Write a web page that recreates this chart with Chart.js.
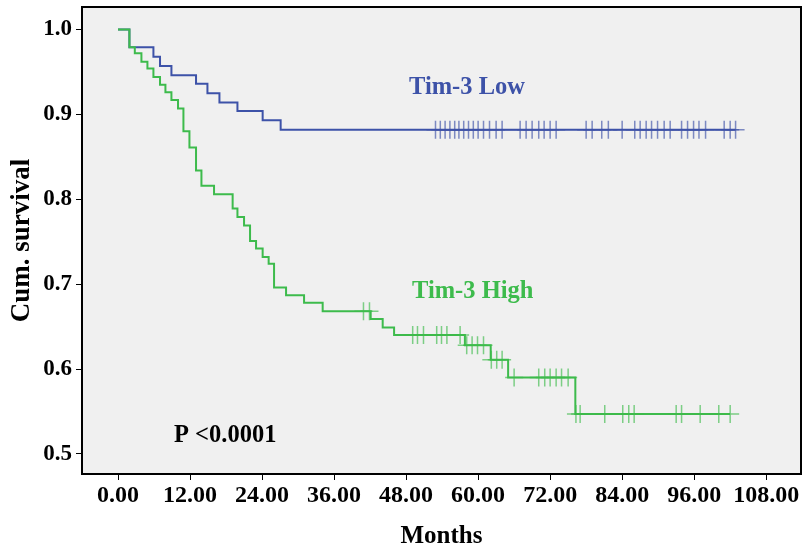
<!DOCTYPE html>
<html><head><meta charset="utf-8">
<script src="https://cdn.jsdelivr.net/npm/chart.js@4.4.0/dist/chart.umd.min.js"></script>
<style>html,body{margin:0;padding:0;background:#fff}#wrap{width:803px;height:552px;position:relative}</style>
</head><body><div id="wrap"><canvas id="c"></canvas></div>
<script>
// ---- data (months, cumulative survival) ----
const lowTimes = [0, 1.9, 5.9, 7.0, 8.9, 13.0, 14.9, 16.9, 19.9, 24.1, 27.1];
const lowSurv  = [1.0, 0.979, 0.968, 0.957, 0.946, 0.936, 0.925, 0.914, 0.904, 0.893, 0.882];
const lowCensor = [52.9, 53.7, 54.5, 55.3, 56.1, 56.8, 57.6, 58.4, 59.2, 60.0, 60.9, 61.9, 63.0, 64.0,
  67.0, 68.0, 69.0, 70.1, 71.0, 72.0, 73.0,
  78.0, 79.0, 80.6, 81.7, 84.0, 86.1, 87.0, 88.0, 88.9, 89.9, 91.0, 92.0, 93.9, 94.9, 95.9, 96.8, 97.9, 101.0, 102.0, 102.9];

const highTimes = [0, 1.9, 2.8, 3.9, 4.9, 5.9, 7.0, 7.9, 8.9, 10.0, 10.9, 11.9, 13.0, 13.9, 16.0, 19.1, 19.9, 21.0, 22.0, 23.0, 24.1, 25.1, 26.0, 28.0, 31.0, 34.1, 42.1, 44.1, 46.0, 57.8, 62.1, 65.0, 76.2];
const highSurv  = [1.0, 0.979, 0.972, 0.962, 0.954, 0.944, 0.935, 0.926, 0.917, 0.907, 0.880, 0.861, 0.834, 0.816, 0.806, 0.789, 0.779, 0.769, 0.751, 0.742, 0.732, 0.724, 0.696, 0.687, 0.678, 0.668, 0.659, 0.649, 0.640, 0.628, 0.611, 0.590, 0.547];
const highCensor = [40.9, 41.9, 49.1, 49.9, 50.9, 53.1, 53.9, 54.8, 57.0, 58.1, 59.0, 59.9, 60.9, 62.2, 63.1, 64.0,
  66.0, 70.1, 71.1, 72.0, 73.0, 73.9, 75.0, 76.3, 77.0, 81.1, 84.1, 85.1, 86.0, 93.0, 93.9, 97.0, 100.1, 102.0];

const xTicks = [0, 12, 24, 36, 48, 60, 72, 84, 96, 108];
const xTickLabels = ['0.00','12.00','24.00','36.00','48.00','60.00','72.00','84.00','96.00','108.00'];
const yTicks = [0.5, 0.6, 0.7, 0.8, 0.9, 1.0];
const yTickLabels = ['0.5','0.6','0.7','0.8','0.9','1.0'];
const groupNames = ['Tim-3 Low', 'Tim-3 High'];
const pText = 'P <0.0001';

// ---- helpers ----
function survAt(times, surv, t) {
  let v = surv[0];
  for (let i = 0; i < times.length; i++) if (times[i] <= t) v = surv[i];
  return v;
}
function curve(times, surv, censor) {
  const pts = times.map((t, i) => ({x: t, y: surv[i]}));
  const last = censor[censor.length - 1];
  pts.push({x: last, y: survAt(times, surv, last)});
  return pts;
}
function marks(times, surv, censor) {
  return censor.map(t => ({x: t, y: survAt(times, surv, t)}));
}

const BLUE = '#3d52a8', GREEN = '#3dbb4c';
const FONT = '"Liberation Serif", "Times New Roman", serif';

const framePlugin = {
  id: 'frame',
  beforeDraw(chart) {
    const {ctx, chartArea: a} = chart;
    ctx.save();
    ctx.fillStyle = '#f0f0f0';
    ctx.fillRect(a.left, a.top, a.right - a.left, a.bottom - a.top);
    ctx.restore();
  },
  afterDraw(chart) {
    const {ctx, chartArea: a} = chart;
    ctx.save();
    ctx.strokeStyle = '#000';
    ctx.lineWidth = 2;
    ctx.strokeRect(a.left, a.top, a.right - a.left, a.bottom - a.top);
    ctx.font = 'bold 24.5px ' + FONT;
    ctx.textBaseline = 'middle';
    ctx.textAlign = 'left';
    ctx.fillStyle = BLUE;
    ctx.fillText(groupNames[0], 409, 88);
    ctx.fillStyle = GREEN;
    ctx.fillText(groupNames[1], 412, 292);
    ctx.fillStyle = '#000';
    ctx.fillText(pText, 174, 436);
    ctx.restore();
  }
};

new Chart(document.getElementById('c'), {
  type: 'line',
  data: {
    datasets: [
      {label: groupNames[0], order: 3, data: curve(lowTimes, lowSurv, lowCensor), stepped: true, borderColor: BLUE, borderWidth: 2, pointRadius: 0, fill: false},
      {label: groupNames[1], order: 2, data: curve(highTimes, highSurv, highCensor), stepped: true, borderColor: GREEN, borderWidth: 2, pointRadius: 0, fill: false},
      {label: 'low censored', order: 1, data: marks(lowTimes, lowSurv, lowCensor), showLine: false, pointStyle: 'cross', pointRadius: 9, pointBorderWidth: 1.5, pointBorderColor: 'rgba(61,82,168,0.65)', borderColor: 'rgba(61,82,168,0.65)'},
      {label: 'high censored', order: 0, data: marks(highTimes, highSurv, highCensor), showLine: false, pointStyle: 'cross', pointRadius: 9, pointBorderWidth: 1.5, pointBorderColor: 'rgba(61,187,76,0.65)', borderColor: 'rgba(61,187,76,0.65)'}
    ]
  },
  options: {
    responsive: true, maintainAspectRatio: false, animation: false, devicePixelRatio: 1,
    layout: {autoPadding: false, padding: {top: 7, right: 2, bottom: 0, left: 0}},
    plugins: {legend: {display: false}, tooltip: {enabled: false}},
    elements: {line: {tension: 0}},
    scales: {
      x: {
        type: 'linear', min: -6, max: 113.8,
        afterBuildTicks: s => { s.ticks = xTicks.map(v => ({value: v})); },
        afterFit: s => { s.height = 78; s.paddingLeft = 0; s.paddingRight = 0; },
        grid: {drawOnChartArea: false, drawTicks: true, tickLength: 6, tickColor: '#000', tickWidth: 1},
        border: {display: false},
        ticks: {color: '#000', font: {family: FONT, size: 24, weight: 'bold'}, padding: 1, maxRotation: 0, autoSkip: false,
          callback: (v) => xTickLabels[xTicks.indexOf(v)]},
        title: {display: true, text: 'Months', color: '#000', font: {family: FONT, size: 25, weight: 'bold'}, padding: {top: 0, bottom: 0}}
      },
      y: {
        type: 'linear', min: 0.4764, max: 1.0265,
        afterBuildTicks: s => { s.ticks = yTicks.map(v => ({value: v})); },
        afterFit: s => { s.width = 82; s.paddingTop = 0; s.paddingBottom = 0; },
        grid: {drawOnChartArea: false, drawTicks: true, tickLength: 6, tickColor: '#000', tickWidth: 1},
        border: {display: false},
        ticks: {color: '#000', font: {family: FONT, size: 23, weight: 'bold'}, padding: 4, autoSkip: false,
          callback: (v) => yTickLabels[yTicks.indexOf(v)]},
        title: {display: true, text: 'Cum. survival', color: '#000', font: {family: FONT, size: 27, weight: 'bold'}, padding: {top: 6, bottom: 0}}
      }
    }
  },
  plugins: [framePlugin]
});
</script></body></html>
